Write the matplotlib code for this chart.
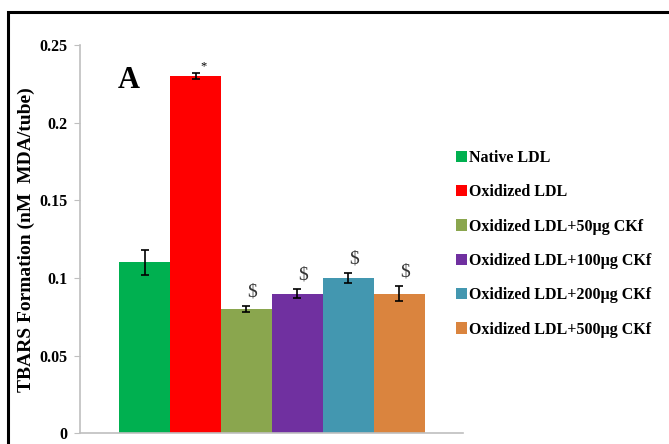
import numpy as np
import matplotlib.pyplot as plt
from matplotlib.patches import Rectangle, Patch

# ===================== DATA =====================
grupos = ["Native LDL", "Oxidized LDL", "Oxidized LDL+50\u00b5g CKf",
          "Oxidized LDL+100\u00b5g CKf", "Oxidized LDL+200\u00b5g CKf",
          "Oxidized LDL+500\u00b5g CKf"]
valores = [0.11, 0.23, 0.08, 0.09, 0.10, 0.09]
erros = [0.008, 0.002, 0.002, 0.003, 0.003, 0.005]
marcas = ["", "*", "$", "$", "$", "$"]
cores = ["#00b050", "#ff0000", "#8aa64e", "#7030a0", "#4397b0", "#da843e"]
# ================================================

plt.rcParams["font.family"] = "Liberation Serif"
plt.rcParams["font.weight"] = "bold"
plt.rcParams["axes.labelweight"] = "bold"

fig = plt.figure(figsize=(6.69, 4.44), dpi=100)
ax = fig.add_axes([0.1196, 0.024, 0.5724, 0.8746])

x = np.arange(len(valores))
ax.bar(x, valores, width=1.0, color=cores, edgecolor="none")
ax.errorbar(x, valores, yerr=erros, fmt="none", ecolor="black",
            elinewidth=1.2, capsize=3, capthick=1.2)

# marcas de significancia
for xi, v, e, m in zip(x, valores, erros, marcas):
    if not m:
        continue
    if m == "*":
        ax.text(xi + 0.15, v + e + 0.004, m, ha="center", va="center",
                fontsize=9, fontweight="normal")
    else:
        ax.text(xi + 0.1, v + e + 0.009, m, ha="center", va="center",
                fontsize=14, fontweight="normal", color="#333333")

ax.text(-0.3, 0.227, "A", ha="center", va="center", fontsize=22)

ax.set_xlim(-1.265, 6.245)
ax.set_ylim(0, 0.25)
ax.set_yticks([0, 0.05, 0.1, 0.15, 0.2, 0.25])
ax.set_yticklabels(["0", "0.05", "0.1", "0.15", "0.2", "0.25"])
ax.set_xticks([])
ax.tick_params(axis="y", direction="out", length=4, color="#bfbfbf",
               labelsize=11.5, pad=5)
for s in ["top", "right"]:
    ax.spines[s].set_visible(False)
ax.spines["left"].set_color("#bfbfbf")
ax.spines["bottom"].set_color("#bfbfbf")
ax.spines["left"].set_linewidth(1.2)
ax.spines["bottom"].set_linewidth(1.2)
ax.set_ylabel("TBARS Formation (nM  MDA/tube)", fontsize=14, labelpad=3)

handles = [Patch(facecolor=c, edgecolor="none") for c in cores]
fig.legend(handles, grupos, loc="upper left", bbox_to_anchor=(0.66, 0.695),
           frameon=False, fontsize=11.5, handlelength=0.7, handleheight=0.7,
           handletextpad=0.15, labelspacing=1.15)

# moldura
fig.patches.append(Rectangle((8 / 669, -0.05), 1.2, 0.05 + 1 - 12 / 444,
                             transform=fig.transFigure, fill=False,
                             edgecolor="black", linewidth=2.2))

plt.savefig("out.png", dpi=100)
plt.close()
